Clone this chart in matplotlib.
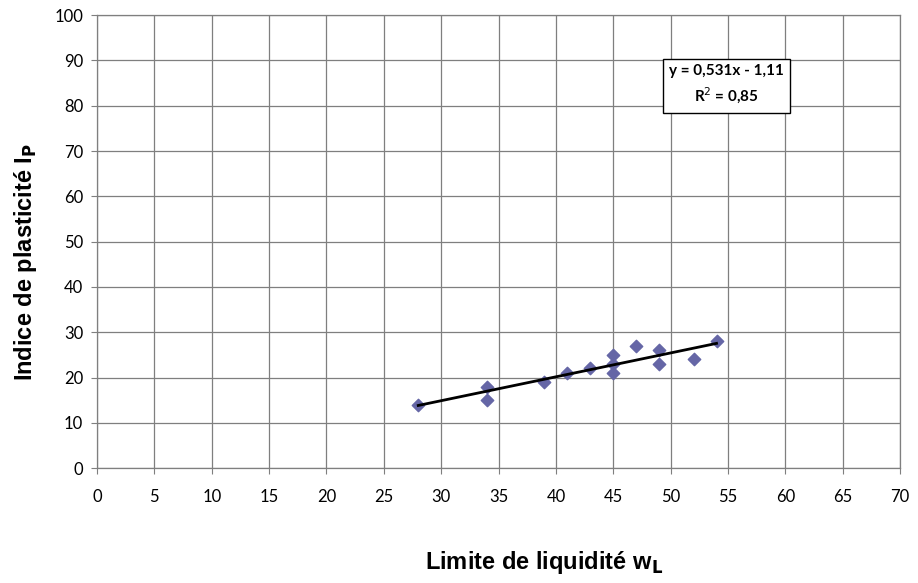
import numpy as np
import matplotlib.pyplot as plt

plt.rcParams['font.family'] = ['Liberation Sans', 'DejaVu Sans']

# Data
wl = [28, 34, 34, 39, 41, 43, 45, 45, 45, 47, 49, 49, 52, 54]
ip = [14, 18, 15, 19, 21, 22, 25, 23, 21, 27, 26, 23, 24, 28]
eq_text = "y = 0,531x - 1,11\nR$^2$ = 0,85"

fig = plt.figure(figsize=(9.18, 5.83), dpi=100)
ax = fig.add_axes([0.1057, 0.197, 0.8748, 0.777])

ax.scatter(wl, ip, marker='D', s=40, color='#6566A6', zorder=3)

# linear trendline
k, b = np.polyfit(wl, ip, 1)
xs = np.array([min(wl), max(wl)])
ax.plot(xs, k * xs + b, color='black', lw=2, zorder=4)

ax.set_xlim(0, 70)
ax.set_ylim(0, 100)
ax.set_xticks(np.arange(0, 71, 5))
ax.set_yticks(np.arange(0, 101, 10))
ax.grid(True, color='#7f7f7f', lw=0.9)
ax.set_axisbelow(True)
for s in ax.spines.values():
    s.set_color('#7f7f7f')
    s.set_linewidth(0.9)
ax.tick_params(color='#7f7f7f', length=4)
ax.tick_params(axis='x', pad=11)
ax.tick_params(axis='y', pad=6)
for lab in ax.get_xticklabels() + ax.get_yticklabels():
    lab.set_family(['Lato', 'DejaVu Sans'])
    lab.set_fontsize(12)

ax.text(54.9, 84.5, eq_text, ha='center', va='center', fontsize=11,
        fontweight='bold', linespacing=1.5, family=['Lato', 'DejaVu Sans'],
        bbox=dict(boxstyle='square,pad=0.4', fc='white', ec='black', lw=1), zorder=5)

fig.text(0.593, 0.035, "Limite de liquidité w$_\\mathbf{L}$", ha='center', va='center',
         fontsize=17, fontweight='bold')
fig.text(0.028, 0.55, "Indice de plasticité I$_\\mathbf{P}$", ha='center', va='center',
         rotation=90, fontsize=17, fontweight='bold')

fig.savefig('out.png', dpi=100)
